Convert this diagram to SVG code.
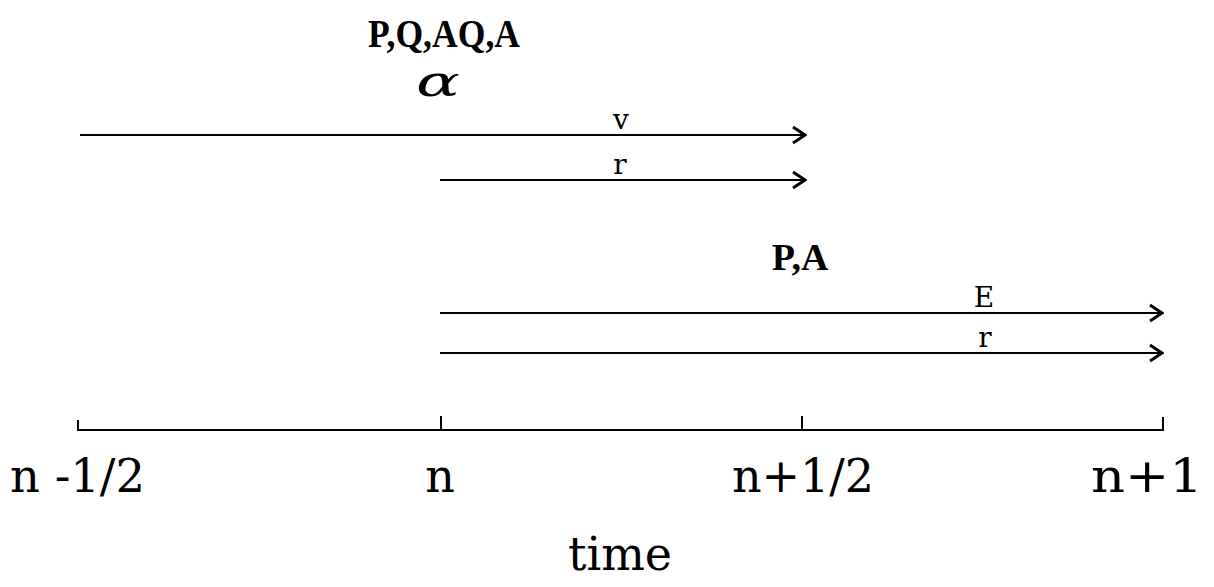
<svg xmlns="http://www.w3.org/2000/svg" width="1214" height="587" viewBox="0 0 1214 587">
<style>
.ln{stroke:#000;stroke-width:2;fill:none}
.lbl{font-family:"DejaVu Serif","Liberation Serif",serif;fill:#000}
.bold{font-family:"Liberation Serif",serif;font-weight:bold;fill:#000}
.ax{font-family:"DejaVu Serif","Liberation Serif",serif;fill:#000;font-size:46px}
</style>
<defs>
<marker id="arr" markerWidth="16" markerHeight="20" refX="14" refY="10" orient="auto" markerUnits="userSpaceOnUse">
<path d="M2,2 L14,10 L2,18" fill="none" stroke="#000" stroke-width="3"/>
</marker>
</defs>
<rect width="1214" height="587" fill="#fff"/>
<g id="connectors">
<line class="ln" x1="80" y1="135" x2="805" y2="135" marker-end="url(#arr)"/>
<line class="ln" x1="440" y1="180" x2="805" y2="180" marker-end="url(#arr)"/>
<line class="ln" x1="440" y1="313" x2="1162" y2="313" marker-end="url(#arr)"/>
<line class="ln" x1="440" y1="353" x2="1162" y2="353" marker-end="url(#arr)"/>
</g>
<g id="axis">
<path class="ln" d="M78,420 L78,430 L1163,430 L1163,417"/>
<line class="ln" x1="441" y1="416" x2="441" y2="430"/>
<line class="ln" x1="802" y1="416" x2="802" y2="430"/>
</g>
<g id="labels-top">
<text class="bold" x="368" y="47" font-size="40" textLength="152" lengthAdjust="spacingAndGlyphs">P,Q,AQ,A</text>
<text class="lbl" x="416" y="96" font-size="42" font-style="italic" textLength="44" lengthAdjust="spacingAndGlyphs">α</text>
<text class="lbl" x="621" y="129" font-size="28" text-anchor="middle">v</text>
<text class="lbl" x="620" y="174" font-size="28" text-anchor="middle">r</text>
<text class="bold" x="800" y="270" font-size="38" text-anchor="middle">P,A</text>
<text class="lbl" x="984" y="307" font-size="28" text-anchor="middle">E</text>
<text class="lbl" x="985" y="347" font-size="28" text-anchor="middle">r</text>
</g>
<g id="ticks">
<text class="ax" x="10" y="492" textLength="135" lengthAdjust="spacingAndGlyphs">n -1/2</text>
<text class="ax" x="440" y="492" text-anchor="middle">n</text>
<text class="ax" x="803" y="492" text-anchor="middle">n+1/2</text>
<text class="ax" x="1147" y="492" text-anchor="middle" textLength="112" lengthAdjust="spacingAndGlyphs">n+1</text>
<text class="ax" x="620" y="570" font-size="44" text-anchor="middle">time</text>
</g>
</svg>
